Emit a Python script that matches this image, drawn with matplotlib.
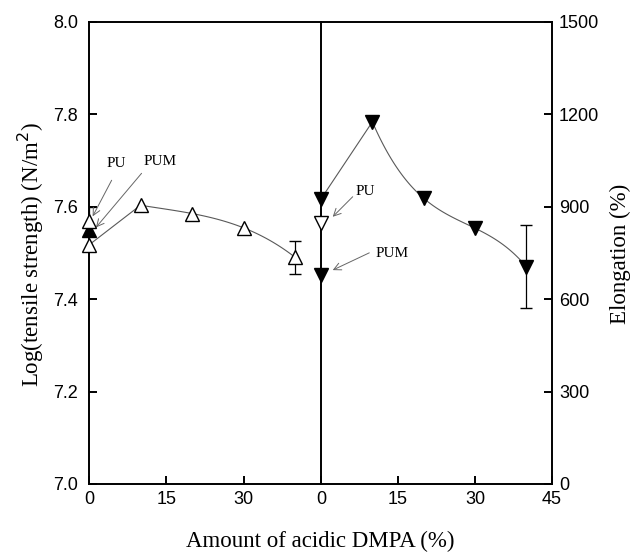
import numpy as np
import matplotlib.pyplot as plt

# DMPA content (%) and measured values
dmpa = [0, 10, 20, 30, 40]
log_ts = [7.517, 7.603, 7.585, 7.554, 7.490]      # open triangles, left panel
log_ts_pu = 7.569
log_ts_pu_err = 0.03
log_ts_filled = 7.549
log_ts_err_40 = 0.036

elong = [925, 1175, 927, 830, 705]                 # filled triangles, right panel
elong_pu = 848
elong_pum = 678
elong_err_40 = 135


def trend(ax, x, y):
    # straight run from 0 to 10, then a smooth cubic through the rest
    ax.plot(x[:2], y[:2], color='0.35', lw=0.8)
    c = np.polyfit(x[1:], y[1:], 3)
    xs = np.linspace(x[1], x[-1], 100)
    ax.plot(xs, np.polyval(c, xs), color='0.35', lw=0.8)


plt.rcParams['font.family'] = 'Liberation Sans'
plt.rcParams['font.size'] = 13

fig = plt.figure(figsize=(6.4, 5.56), dpi=100)
ax1 = fig.add_axes([0.139, 0.1295, 0.3626, 0.8315])
ax2 = fig.add_axes([0.5016, 0.1295, 0.3609, 0.8315])

serif = 'Liberation Serif'
lw = 1.4
ms = 9.5

# ---- left: tensile strength ----
trend(ax1, dmpa, log_ts)
ax1.errorbar([0], [log_ts_pu], yerr=[log_ts_pu_err], fmt='none', ecolor='k',
             elinewidth=0.9, capsize=4.5)
ax1.errorbar([40], [log_ts[-1]], yerr=[log_ts_err_40], fmt='none', ecolor='k',
             elinewidth=0.9, capsize=4.5)
ax1.plot([0], [log_ts_filled], '^', color='k', ms=ms, clip_on=False, zorder=5)
ax1.plot(dmpa, log_ts, '^', mfc='white', mec='k', mew=1, ms=ms,
         clip_on=False, zorder=6)
ax1.plot([0], [log_ts_pu], '^', mfc='white', mec='k', mew=1, ms=ms,
         clip_on=False, zorder=6)

arrow = dict(arrowstyle='->', color='0.4', lw=0.7, shrinkA=0, shrinkB=0)
ax1.annotate('', xy=(0.72, 7.579), xytext=(4.4, 7.657), arrowprops=arrow)
ax1.annotate('', xy=(1.36, 7.555), xytext=(10.2, 7.672), arrowprops=arrow)
ax1.text(5.3, 7.694, 'PU', family=serif, fontsize=11, ha='center', va='center')
ax1.text(13.8, 7.698, 'PUM', family=serif, fontsize=11, ha='center', va='center')

ax1.set_xlim(0, 45)
ax1.set_ylim(7.0, 8.0)
ax1.set_xticks([0, 15, 30])
ax1.set_yticks([7.0, 7.2, 7.4, 7.6, 7.8, 8.0])
ax1.set_yticklabels(['7.0', '7.2', '7.4', '7.6', '7.8', '8.0'])
ax1.spines['right'].set_visible(False)

# ---- right: elongation ----
trend(ax2, dmpa, elong)
ax2.errorbar([40], [elong[-1]], yerr=[elong_err_40], fmt='none', ecolor='k',
             elinewidth=0.9, capsize=4.5)
ax2.plot(dmpa, elong, 'v', color='k', ms=ms, clip_on=False, zorder=5)
ax2.plot([0], [elong_pum], 'v', color='k', ms=ms, clip_on=False, zorder=5)
ax2.plot([0], [elong_pu], 'v', mfc='white', mec='k', mew=1, ms=ms,
         clip_on=False, zorder=6)

ax2.annotate('', xy=(2.28, 867), xytext=(6.17, 932), arrowprops=arrow)
ax2.annotate('', xy=(2.28, 694), xytext=(9.4, 750), arrowprops=arrow)
ax2.text(8.56, 948, 'PU', family=serif, fontsize=11, ha='center', va='center')
ax2.text(13.75, 748, 'PUM', family=serif, fontsize=11, ha='center', va='center')

ax2.set_xlim(0, 45)
ax2.set_ylim(0, 1500)
ax2.set_xticks([0, 15, 30, 45])
ax2.set_yticks([0, 300, 600, 900, 1200, 1500])
ax2.yaxis.tick_right()

for ax in (ax1, ax2):
    for s in ax.spines.values():
        s.set_linewidth(lw)
    ax.tick_params(direction='in', length=5.5, width=lw, pad=5)
ax1.tick_params(axis='y', pad=8)
ax2.tick_params(axis='y', which='both', left=False)

fig.text(31 / 640, 0.543, 'Log(tensile strength) (N/m$^2$)', family=serif,
         fontsize=16.5, rotation=90, ha='center', va='center')
fig.text(620 / 640, 0.543, 'Elongation (%)', family=serif, fontsize=16.5,
         rotation=90, ha='center', va='center')
fig.text(0.5, 1 - 541 / 556, 'Amount of acidic DMPA (%)', family=serif,
         fontsize=16.5, ha='center', va='center')

fig.savefig('out.png', dpi=100)
